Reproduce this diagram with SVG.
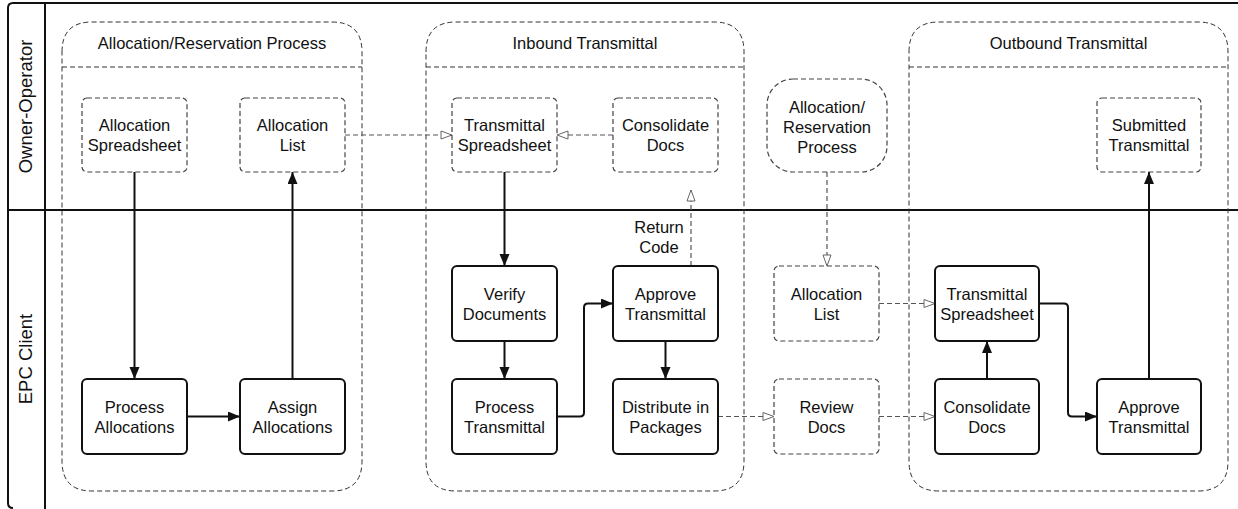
<svg xmlns="http://www.w3.org/2000/svg" width="1238" height="509" viewBox="0 0 1238 509">
<style>
text{font-family:"Liberation Sans",Arial,sans-serif;font-size:16.5px;fill:#111;text-anchor:middle}
.lane{font-size:18.5px}
.frame{fill:none;stroke:#111;stroke-width:2}
.grp{fill:none;stroke:#333;stroke-width:1;stroke-dasharray:5 3}
.sn{fill:#fff;stroke:#111;stroke-width:2}
.dn{fill:#fff;stroke:#444;stroke-width:1.2;stroke-dasharray:5 3}
.sc{fill:none;stroke:#111;stroke-width:2}
.dc{fill:none;stroke:#555;stroke-width:1.2;stroke-dasharray:5 3}
</style>
<defs>
<marker id="af" markerUnits="userSpaceOnUse" markerWidth="13" markerHeight="11" refX="12" refY="5" orient="auto"><path d="M0,0 L12,5 L0,10 z" fill="#111"/></marker>
<marker id="ah" markerUnits="userSpaceOnUse" markerWidth="14" markerHeight="11" refX="12" refY="5" orient="auto"><path d="M1,1 L12,5 L1,9 z" fill="#fff" stroke="#666" stroke-width="1"/></marker>
</defs>
<rect width="1238" height="509" fill="#fff"/>
<g id="pool">
<path class="frame" d="M1240,3 H13 Q8,3 8,8 V503 Q8,508 13,508"/>
<line class="frame" x1="45" y1="3" x2="45" y2="509"/>
<line class="frame" x1="8" y1="210" x2="1238" y2="210"/>
<text class="lane" transform="translate(31.5,106.5) rotate(-90)">Owner-Operator</text>
<text class="lane" transform="translate(31.5,359) rotate(-90)">EPC Client</text>
</g>
<g id="group-allocation">
<path class="grp" d="M62,52 Q62,22 92,22 H332 Q362,22 362,52 V461 Q362,491 332,491 H92 Q62,491 62,461 Z"/>
<line class="grp" x1="62" y1="67" x2="362" y2="67"/>
<text x="212" y="49">Allocation/Reservation Process</text>
</g>
<g id="group-inbound">
<path class="grp" d="M426,52 Q426,22 456,22 H714 Q744,22 744,52 V461 Q744,491 714,491 H456 Q426,491 426,461 Z"/>
<line class="grp" x1="426" y1="67" x2="744" y2="67"/>
<text x="585" y="49">Inbound Transmittal</text>
</g>
<g id="group-outbound">
<path class="grp" d="M909,52 Q909,22 939,22 H1198 Q1228,22 1228,52 V461 Q1228,491 1198,491 H939 Q909,491 909,461 Z"/>
<line class="grp" x1="909" y1="67" x2="1228" y2="67"/>
<text x="1068.5" y="49">Outbound Transmittal</text>
</g>
<g id="connectors">
<line class="sc" x1="134.5" y1="172" x2="134.5" y2="379" marker-end="url(#af)"/>
<line class="sc" x1="187" y1="416.5" x2="240" y2="416.5" marker-end="url(#af)"/>
<line class="sc" x1="292.5" y1="379" x2="292.5" y2="172" marker-end="url(#af)"/>
<line class="dc" x1="345" y1="135" x2="452" y2="135" marker-end="url(#ah)"/>
<line class="dc" x1="613" y1="135" x2="557" y2="135" marker-end="url(#ah)"/>
<line class="sc" x1="504.5" y1="172" x2="504.5" y2="266" marker-end="url(#af)"/>
<line class="sc" x1="504.5" y1="341" x2="504.5" y2="379" marker-end="url(#af)"/>
<path class="sc" d="M557,416.5 H580 Q584,416.5 584,412.5 V307.5 Q584,303.5 588,303.5 H613" marker-end="url(#af)"/>
<line class="dc" x1="691" y1="266" x2="691" y2="190" marker-end="url(#ah)"/>
<text x="659" y="233">Return</text>
<text x="659" y="253">Code</text>
<line class="sc" x1="665.5" y1="341" x2="665.5" y2="379" marker-end="url(#af)"/>
<line class="dc" x1="718" y1="416.5" x2="774" y2="416.5" marker-end="url(#ah)"/>
<line class="dc" x1="827" y1="172" x2="827" y2="266" marker-end="url(#ah)"/>
<line class="dc" x1="879" y1="303.5" x2="935" y2="303.5" marker-end="url(#ah)"/>
<line class="dc" x1="879" y1="416.5" x2="935" y2="416.5" marker-end="url(#ah)"/>
<line class="sc" x1="987" y1="379" x2="987" y2="341" marker-end="url(#af)"/>
<path class="sc" d="M1039,303.5 H1064 Q1068,303.5 1068,307.5 V412.5 Q1068,416.5 1072,416.5 H1097" marker-end="url(#af)"/>
<line class="sc" x1="1149" y1="379" x2="1149" y2="172" marker-end="url(#af)"/>
</g>
<g id="n-alloc-spreadsheet"><rect class="dn" x="82" y="98" width="105" height="74" rx="5"/><text x="134.5" y="131">Allocation</text><text x="134.5" y="151">Spreadsheet</text></g>
<g id="n-alloc-list"><rect class="dn" x="240" y="98" width="105" height="74" rx="5"/><text x="292.5" y="131">Allocation</text><text x="292.5" y="151">List</text></g>
<g id="n-process-alloc"><rect class="sn" x="82" y="379" width="105" height="75" rx="5"/><text x="134.5" y="412.5">Process</text><text x="134.5" y="432.5">Allocations</text></g>
<g id="n-assign-alloc"><rect class="sn" x="240" y="379" width="105" height="75" rx="5"/><text x="292.5" y="412.5">Assign</text><text x="292.5" y="432.5">Allocations</text></g>
<g id="n-in-spreadsheet"><rect class="dn" x="452" y="98" width="105" height="74" rx="5"/><text x="504.5" y="131">Transmittal</text><text x="504.5" y="151">Spreadsheet</text></g>
<g id="n-in-consolidate"><rect class="dn" x="613" y="98" width="105" height="74" rx="5"/><text x="665.5" y="131">Consolidate</text><text x="665.5" y="151">Docs</text></g>
<g id="n-verify"><rect class="sn" x="452" y="266" width="105" height="75" rx="5"/><text x="504.5" y="299.5">Verify</text><text x="504.5" y="319.5">Documents</text></g>
<g id="n-approve-in"><rect class="sn" x="613" y="266" width="105" height="75" rx="5"/><text x="665.5" y="299.5">Approve</text><text x="665.5" y="319.5">Transmittal</text></g>
<g id="n-process-trans"><rect class="sn" x="452" y="379" width="105" height="75" rx="5"/><text x="504.5" y="412.5">Process</text><text x="504.5" y="432.5">Transmittal</text></g>
<g id="n-distribute"><rect class="sn" x="613" y="379" width="105" height="75" rx="5"/><text x="665.5" y="412.5">Distribute in</text><text x="665.5" y="432.5">Packages</text></g>
<g id="n-alloc-process"><rect class="dn" x="767" y="79" width="120" height="93" rx="26"/><text x="827" y="113">Allocation/</text><text x="827" y="133">Reservation</text><text x="827" y="153">Process</text></g>
<g id="n-alloc-list-2"><rect class="dn" x="774" y="266" width="105" height="75" rx="5"/><text x="826.5" y="299.5">Allocation</text><text x="826.5" y="319.5">List</text></g>
<g id="n-review"><rect class="dn" x="774" y="379" width="105" height="75" rx="5"/><text x="826.5" y="412.5">Review</text><text x="826.5" y="432.5">Docs</text></g>
<g id="n-out-spreadsheet"><rect class="sn" x="935" y="266" width="104" height="75" rx="5"/><text x="987" y="299.5">Transmittal</text><text x="987" y="319.5">Spreadsheet</text></g>
<g id="n-out-consolidate"><rect class="sn" x="935" y="379" width="104" height="75" rx="5"/><text x="987" y="412.5">Consolidate</text><text x="987" y="432.5">Docs</text></g>
<g id="n-approve-out"><rect class="sn" x="1097" y="379" width="104" height="75" rx="5"/><text x="1149" y="412.5">Approve</text><text x="1149" y="432.5">Transmittal</text></g>
<g id="n-submitted"><rect class="dn" x="1097" y="98" width="104" height="74" rx="5"/><text x="1149" y="131">Submitted</text><text x="1149" y="151">Transmittal</text></g>
</svg>
